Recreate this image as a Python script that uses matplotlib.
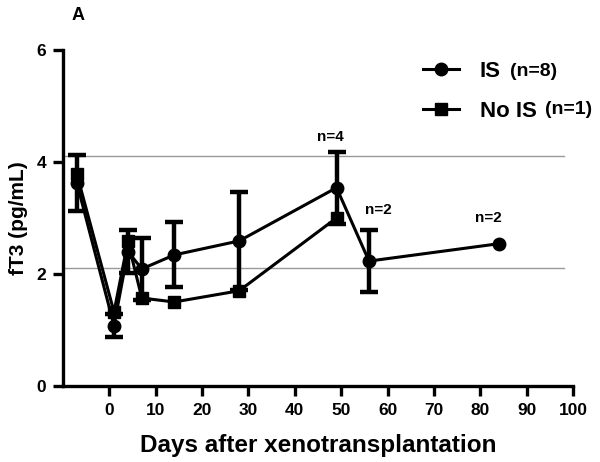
import matplotlib
matplotlib.use("Agg")
import matplotlib.pyplot as plt
from matplotlib.lines import Line2D

plt.rcParams['font.family'] = ['Liberation Sans', 'DejaVu Sans']
plt.rcParams['font.weight'] = 'bold'

days_is = [-7, 1, 4, 7, 14, 28, 49, 56, 84]
ft3_is = [3.62, 1.08, 2.40, 2.09, 2.34, 2.59, 3.54, 2.23, 2.54]
sd_is = [0.50, 0.21, 0.38, 0.55, 0.58, 0.87, 0.64, 0.55, 0.0]

days_nois = [-7, 1, 4, 7, 14, 28, 49]
ft3_nois = [3.78, 1.32, 2.58, 1.57, 1.50, 1.70, 3.00]

ref_lines = [4.1, 2.1]
x_ticks = [0, 10, 20, 30, 40, 50, 60, 70, 80, 90, 100]
y_ticks = [0, 2, 4, 6]

n_labels = ["n=4", "n=2", "n=2"]
n_label_x = [47.7, 58.1, 81.8]
n_label_y = [4.45, 3.14, 3.0]

fig = plt.figure(figsize=(6, 4.62), dpi=100)
ax = fig.add_axes([0.105, 0.1645, 0.85, 0.7275])

for r in ref_lines:
    ax.plot([-10, 98], [r, r], color='#999999', lw=1.0, zorder=1)

ex = [d for d, s in zip(days_is, sd_is) if s > 0]
ey = [v for v, s in zip(ft3_is, sd_is) if s > 0]
es = [s for s in sd_is if s > 0]
ax.errorbar(ex, ey, yerr=es, fmt='none', ecolor='black', elinewidth=3.2,
            capsize=6.6, capthick=3.2, zorder=3)
ax.plot(days_is, ft3_is, color='black', lw=2.2, marker='o', markersize=9, zorder=3)
ax.plot(days_nois, ft3_nois, color='black', lw=2.2, marker='s', markersize=9,
        zorder=3)

for t, x, y in zip(n_labels, n_label_x, n_label_y):
    ax.text(x, y, t, fontsize=11, fontweight='bold', ha='center', va='center')

ax.set_xlim(-10, 100)
ax.set_ylim(0, 6)
ax.set_xticks(x_ticks)
ax.set_yticks(y_ticks)
for s in ['top', 'right']:
    ax.spines[s].set_visible(False)
for s in ['left', 'bottom']:
    ax.spines[s].set_linewidth(2.4)
ax.tick_params(width=2.4, length=7, labelsize=12.5, pad=5)
for lab in ax.get_xticklabels() + ax.get_yticklabels():
    lab.set_fontweight('bold')

ax.set_xlabel('Days after xenotransplantation', fontsize=17.5, fontweight='bold', labelpad=12)
ax.set_ylabel('fT3 (pg/mL)', fontsize=15, fontweight='bold', labelpad=6)

h1 = Line2D([], [], color='black', lw=2.2, marker='o', markersize=9)
h2 = Line2D([], [], color='black', lw=2.2, marker='s', markersize=9)
leg = fig.legend([h1, h2], ['IS', 'No IS'], loc='upper left',
                 bbox_to_anchor=(423/600, 1-61/462), bbox_transform=fig.transFigure,
                 frameon=False, fontsize=16, borderpad=0, borderaxespad=0,
                 handlelength=1.6, labelspacing=0.85, handletextpad=0.95)
for t in leg.get_texts():
    t.set_fontweight('bold')
fig.text(510/600, 1-71/462, '(n=8)', fontsize=14, fontweight='bold', va='center')
fig.text(545/600, 1-110/462, '(n=1)', fontsize=14, fontweight='bold', va='center')

fig.text(78/600, 1-15/462, 'A', fontsize=13, fontweight='bold', va='center', ha='center')

fig.savefig('out.png', dpi=100)
